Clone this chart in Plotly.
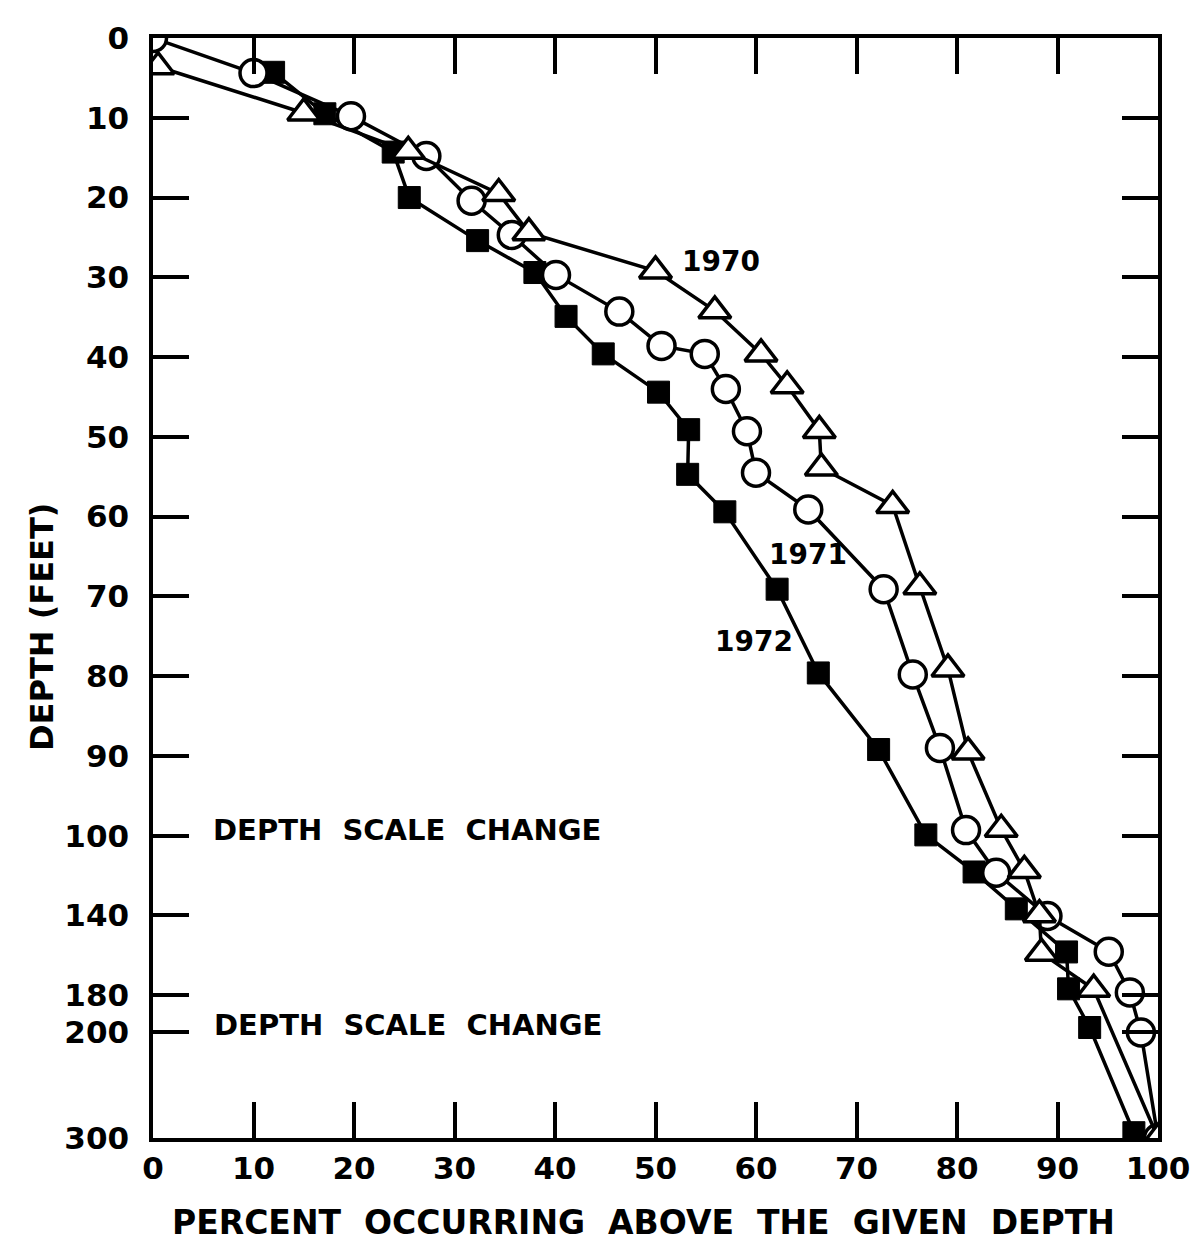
import numpy as np
import plotly.graph_objects as go

# ---- depth scale (piecewise, scale changes at 100 and 200 ft) ----
depth_breaks = [0, 100, 140, 180, 200, 300]
axis_pos = [0, 100, 110, 120, 124.6, 137.9]

def dpos(d):
    return np.interp(np.asarray(d, dtype=float), depth_breaks, axis_pos)

# ---- data: percent occurring above depth (x) vs depth in feet (y) ----
pct_1970 = [0.5, 15.0, 25.4, 34.4, 37.4, 50.0, 55.9, 60.5, 63.1, 66.3, 66.5, 73.6, 76.3,
            79.1, 81.1, 84.4, 86.7, 88.2, 88.4, 93.6, 100.0]
dep_1970 = [3.6, 9.4, 14.2, 19.5, 24.4, 29.2, 34.2, 39.6, 43.6, 49.2, 53.9, 58.6, 68.8,
            79.1, 89.5, 99.2, 117.4, 139.6, 158.9, 177.0, 300.0]

pct_1971 = [0.0, 10.0, 19.7, 27.2, 31.7, 35.7, 40.1, 46.4, 50.6, 54.9, 57.0, 59.1, 60.0,
            65.2, 72.7, 75.6, 78.3, 80.9, 83.9, 89.0, 95.1, 97.2, 98.3, 100.0]
dep_1971 = [0.0, 4.4, 9.8, 14.8, 20.4, 24.7, 29.7, 34.3, 38.6, 39.6, 44.0, 49.3, 54.5,
            59.1, 69.1, 79.8, 89.0, 99.3, 118.6, 140.3, 158.2, 178.6, 200.5, 300.0]

pct_1972 = [12.0, 17.1, 23.9, 25.5, 32.3, 38.0, 41.1, 44.8, 50.3, 53.3, 53.2, 56.9, 62.1,
            66.2, 72.2, 76.9, 81.7, 85.9, 90.9, 91.1, 93.2, 97.6]
dep_1972 = [4.3, 9.5, 14.3, 20.0, 25.4, 29.4, 34.9, 39.6, 44.4, 49.1, 54.7, 59.4, 69.1,
            79.6, 89.2, 99.9, 118.2, 136.7, 158.3, 176.8, 197.6, 295.0]

y_ticks = [0, 10, 20, 30, 40, 50, 60, 70, 80, 90, 100, 140, 180, 200, 300]
x_ticks = [0, 10, 20, 30, 40, 50, 60, 70, 80, 90, 100]

FONT = "DejaVu Sans"

def b(t):
    return "<b>" + t + "</b>"

fig = go.Figure()
fig.add_trace(go.Scatter(
    x=pct_1972, y=dpos(dep_1972), mode="lines+markers", name="1972",
    line=dict(color="black", width=3.5),
    marker=dict(symbol="square", size=22, color="black", line=dict(color="black", width=1))))
fig.add_trace(go.Scatter(
    x=pct_1971, y=dpos(dep_1971), mode="lines+markers", name="1971",
    line=dict(color="black", width=3.5),
    marker=dict(symbol="circle", size=27, color="white", line=dict(color="black", width=3.5))))
fig.add_trace(go.Scatter(
    x=pct_1970, y=dpos(dep_1970), mode="lines+markers", name="1970",
    line=dict(color="black", width=3.5),
    marker=dict(symbol="triangle-up", size=28, color="white", line=dict(color="black", width=3.5))))

annots = [
    dict(x=56.5, y=dpos(28.0), text="1970", size=28, xanchor="center"),
    dict(x=65.2, y=dpos(64.7), text="1971", size=28, xanchor="center"),
    dict(x=59.8, y=dpos(75.6), text="1972", size=28, xanchor="center"),
    dict(x=5.8, y=dpos(99.3), text="DEPTH  SCALE  CHANGE", size=29, xanchor="left"),
    dict(x=5.9, y=dpos(196.0), text="DEPTH  SCALE  CHANGE", size=29, xanchor="left"),
]
for a in annots:
    fig.add_annotation(x=a["x"], y=a["y"], xref="x", yref="y", text=b(a["text"]),
                       showarrow=False, xanchor=a["xanchor"], yanchor="middle",
                       font=dict(family=FONT, size=a["size"], color="black"))

fig.add_annotation(x=0.488, y=-0.077, xref="paper", yref="paper",
                   text=b("PERCENT  OCCURRING  ABOVE  THE  GIVEN  DEPTH"),
                   showarrow=False, xanchor="center", yanchor="middle",
                   font=dict(family=FONT, size=33, color="black"))
fig.add_annotation(x=-0.11, y=0.465, xref="paper", yref="paper",
                   text=b("DEPTH (FEET)"), textangle=-90,
                   showarrow=False, xanchor="center", yanchor="middle",
                   font=dict(family=FONT, size=32, color="black"))

fig.update_layout(
    width=1198, height=1255,
    margin=dict(l=145, r=48, t=22, b=125),
    paper_bgcolor="white", plot_bgcolor="white",
    showlegend=False,
    font=dict(family=FONT, color="black"),
)
fig.update_xaxes(
    range=[0, 100], tickvals=x_ticks, ticktext=[b(str(v)) for v in x_ticks],
    ticks="inside", ticklen=36, tickwidth=3.5, tickcolor="black",
    showline=True, linecolor="black", linewidth=3.5, mirror="allticks",
    showgrid=False, zeroline=False,
    tickfont=dict(family=FONT, size=31, color="black"),
)
fig.update_yaxes(
    range=[float(dpos(300)), 0], tickvals=list(dpos(y_ticks)),
    ticktext=[b(str(v)) for v in y_ticks],
    ticks="inside", ticklen=36, tickwidth=3.5, tickcolor="black",
    showline=True, linecolor="black", linewidth=3.5, mirror="allticks",
    showgrid=False, zeroline=False, ticklabelstandoff=14,
    tickfont=dict(family=FONT, size=31, color="black"),
)

fig.write_html("out.html")
